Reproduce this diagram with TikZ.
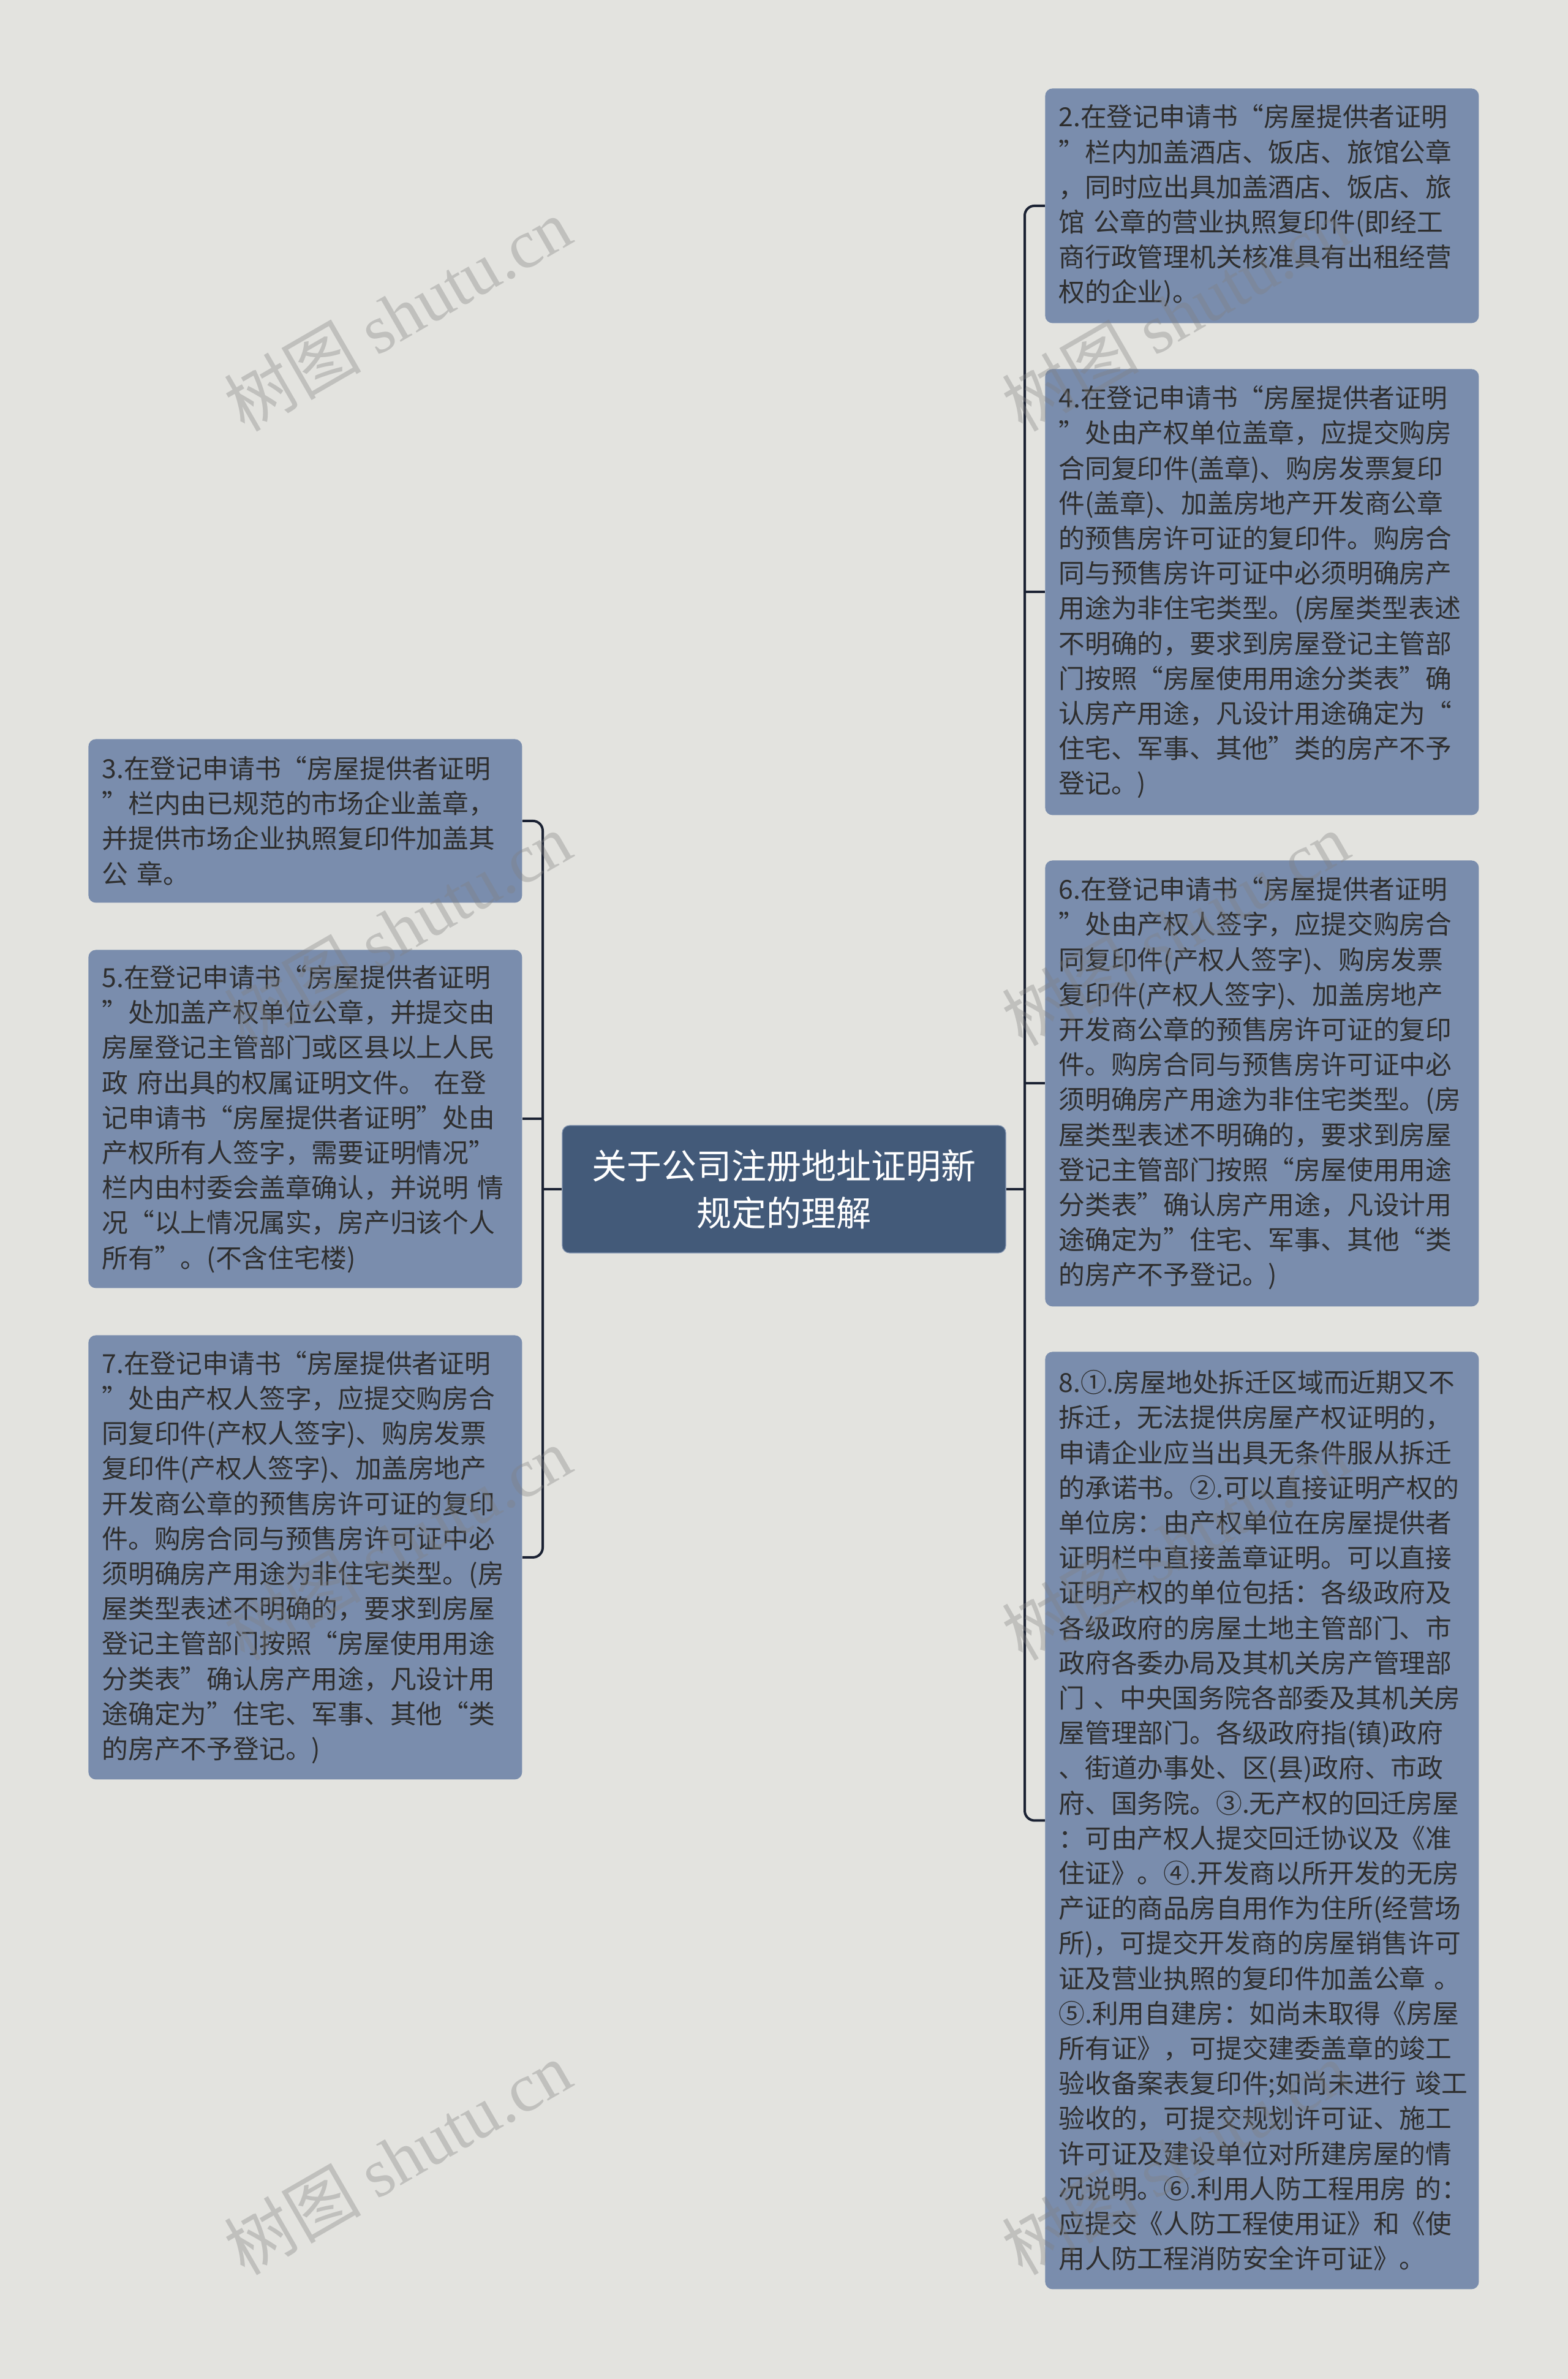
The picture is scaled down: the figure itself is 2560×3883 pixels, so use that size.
\documentclass[tikz,border=0pt]{standalone}
\usepackage{fontspec}
\setmainfont{Noto Sans CJK SC}
\newfontfamily\wmlatin{Liberation Serif}
\definecolor{bg}{HTML}{E3E3DF}
\definecolor{boxfill}{HTML}{7A8DAD}
\definecolor{boxtext}{HTML}{2E2E2E}
\definecolor{rootfill}{HTML}{435A79}
\definecolor{rootline}{HTML}{7C8FAC}
\definecolor{conncol}{HTML}{1B2233}
\begin{document}
\begin{tikzpicture}[x=0.5pt,y=-0.5pt,
  leaf/.style={rectangle, rounded corners=6pt, fill=boxfill, text=boxtext,
    font=\fontsize{21.4pt}{28.6pt}\selectfont, text width=332pt, align=left,
    inner xsep=11pt, inner ysep=8pt, anchor=north west},
  rootnode/.style={rectangle, rounded corners=6pt, fill=rootfill, draw=rootline, line width=0.6pt,
    text=white, font=\fontsize{28.5pt}{38.5pt}\selectfont, align=center,
    minimum width=362pt, minimum height=104pt},
  link/.style={draw=conncol, line width=2pt, rounded corners=8pt},
  wm/.style={text=gray, opacity=0.35, rotate=30, font=\fontsize{56pt}{56pt}\selectfont}
]
\fill[bg] (0,0) rectangle (2560,3883);
\useasboundingbox (0,0) rectangle (2560,3883);

\node[rootnode] (root) at (1280,1941) {关于公司注册地址证明新\\规定的理解};

% right column
\node[leaf, minimum height=191.5pt] (b2) at (1706,144) {2.在登记申请书“房屋提供者证明\\”栏内加盖酒店、饭店、旅馆公章\\，同时应出具加盖酒店、饭店、旅\\馆~公章的营业执照复印件(即经工\\商行政管理机关核准具有出租经营\\权的企业)。};

\node[leaf, minimum height=364pt] (b4) at (1706,602) {4.在登记申请书“房屋提供者证明\\”处由产权单位盖章，应提交购房\\合同复印件(盖章)、购房发票复印\\件(盖章)、加盖房地产开发商公章\\的预售房许可证的复印件。购房合\\同与预售房许可证中必须明确房产\\用途为非住宅类型。(房屋类型表述\\不明确的，要求到房屋登记主管部\\门按照“房屋使用用途分类表”确\\认房产用途，凡设计用途确定为“\\住宅、军事、其他”类的房产不予\\登记。)};

\node[leaf, minimum height=364pt] (b6) at (1706,1404) {6.在登记申请书“房屋提供者证明\\”处由产权人签字，应提交购房合\\同复印件(产权人签字)、购房发票\\复印件(产权人签字)、加盖房地产\\开发商公章的预售房许可证的复印\\件。购房合同与预售房许可证中必\\须明确房产用途为非住宅类型。(房\\屋类型表述不明确的，要求到房屋\\登记主管部门按照“房屋使用用途\\分类表”确认房产用途，凡设计用\\途确定为”住宅、军事、其他“类\\的房产不予登记。)};

\node[leaf, minimum height=765pt] (b8) at (1706,2206) {8.①.房屋地处拆迁区域而近期又不\\拆迁，无法提供房屋产权证明的，\\申请企业应当出具无条件服从拆迁\\的承诺书。②.可以直接证明产权的\\单位房：由产权单位在房屋提供者\\证明栏中直接盖章证明。可以直接\\证明产权的单位包括：各级政府及\\各级政府的房屋土地主管部门、市\\政府各委办局及其机关房产管理部\\门~、中央国务院各部委及其机关房\\屋管理部门。各级政府指(镇)政府\\、街道办事处、区(县)政府、市政\\府、国务院。③.无产权的回迁房屋\\：可由产权人提交回迁协议及《准\\住证》。④.开发商以所开发的无房\\产证的商品房自用作为住所(经营场\\所)，可提交开发商的房屋销售许可\\证及营业执照的复印件加盖公章~。\\⑤.利用自建房：如尚未取得《房屋\\所有证》，可提交建委盖章的竣工\\验收备案表复印件;如尚未进行~竣工\\验收的，可提交规划许可证、施工\\许可证及建设单位对所建房屋的情\\况说明。⑥.利用人防工程用房~的：\\应提交《人防工程使用证》和《使\\用人防工程消防安全许可证》。};

% left column
\node[leaf, minimum height=133.5pt] (b3) at (144,1206) {3.在登记申请书“房屋提供者证明\\”栏内由已规范的市场企业盖章，\\并提供市场企业执照复印件加盖其\\公~章。};

\node[leaf, minimum height=276pt] (b5) at (144,1550) {5.在登记申请书“房屋提供者证明\\”处加盖产权单位公章，并提交由\\房屋登记主管部门或区县以上人民\\政~府出具的权属证明文件。~在登\\记申请书“房屋提供者证明”处由\\产权所有人签字，需要证明情况”\\栏内由村委会盖章确认，并说明~情\\况“以上情况属实，房产归该个人\\所有”。(不含住宅楼)};

\node[leaf, minimum height=362.5pt] (b7) at (144,2179) {7.在登记申请书“房屋提供者证明\\”处由产权人签字，应提交购房合\\同复印件(产权人签字)、购房发票\\复印件(产权人签字)、加盖房地产\\开发商公章的预售房许可证的复印\\件。购房合同与预售房许可证中必\\须明确房产用途为非住宅类型。(房\\屋类型表述不明确的，要求到房屋\\登记主管部门按照“房屋使用用途\\分类表”确认房产用途，凡设计用\\途确定为”住宅、军事、其他“类\\的房产不予登记。)};

% connectors
\coordinate (jl) at (886,1941);
\coordinate (jr) at (1673,1941);
\draw[link] (root.west) -- (jl);
\draw[link] (root.east) -- (jr);
\draw[link] (jl) |- (b3.east);
\draw[link] (jl) |- (b7.east);
\draw[link] (b5.east -| jl) -- (b5.east);
\draw[link] (jr) |- (b2.west);
\draw[link] (jr) |- (b8.west);
\draw[link] (b4.west -| jr) -- (b4.west);
\draw[link] (b6.west -| jr) -- (b6.west);

% watermarks
\node[wm] (wm1) at (649,513) {树图 {\wmlatin shutu.cn}};
\node[wm] (wm2) at (649,1516) {树图 {\wmlatin shutu.cn}};
\node[wm] (wm3) at (649,2519) {树图 {\wmlatin shutu.cn}};
\node[wm] (wm4) at (649,3522) {树图 {\wmlatin shutu.cn}};
\node[wm] (wm5) at (1919,513) {树图 {\wmlatin shutu.cn}};
\node[wm] (wm6) at (1919,1516) {树图 {\wmlatin shutu.cn}};
\node[wm] (wm7) at (1919,2519) {树图 {\wmlatin shutu.cn}};
\node[wm] (wm8) at (1919,3522) {树图 {\wmlatin shutu.cn}};
\end{tikzpicture}
\end{document}
